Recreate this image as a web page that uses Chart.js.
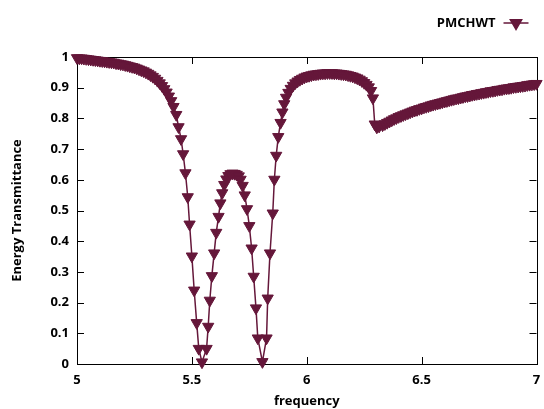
<!DOCTYPE html>
<html>
<head>
<meta charset="utf-8">
<script src="https://cdn.jsdelivr.net/npm/chart.js@4.4.1/dist/chart.umd.min.js"></script>
<style>
  html, body { margin: 0; padding: 0; background: #fff; }
</style>
</head>
<body>
<canvas id="chart" width="544" height="409"></canvas>
<script>
const seriesName = 'PMCHWT';

// frequency samples (dense where the curve is flat, read point by point in the dips)
const freq = [
  5.00, 5.01, 5.02, 5.03, 5.04, 5.05, 5.06, 5.07, 5.08, 5.09,
  5.10, 5.11, 5.12, 5.13, 5.14, 5.15, 5.16, 5.17, 5.18, 5.19,
  5.20, 5.21, 5.22, 5.23, 5.24, 5.25, 5.26, 5.27, 5.28, 5.29,
  5.30, 5.31, 5.32, 5.33, 5.34, 5.35, 5.36, 5.37, 5.38, 5.39,
  5.40, 5.41, 5.42,
  5.432, 5.442, 5.453, 5.462, 5.472, 5.482, 5.490, 5.500, 5.510, 5.521,
  5.530, 5.544, 5.564, 5.571, 5.578, 5.587, 5.597, 5.606, 5.616, 5.624,
  5.632, 5.641, 5.650, 5.659, 5.668, 5.677, 5.686, 5.695, 5.704, 5.712,
  5.721, 5.730, 5.740, 5.750, 5.760, 5.769, 5.779, 5.787, 5.807, 5.825,
  5.830, 5.840, 5.852, 5.859, 5.867, 5.876, 5.886, 5.894, 5.902,
  5.91, 5.92, 5.93, 5.94, 5.95, 5.96, 5.97, 5.98, 5.99, 6.00,
  6.01, 6.02, 6.03, 6.04, 6.05, 6.06, 6.07, 6.08, 6.09, 6.10,
  6.11, 6.12, 6.13, 6.14, 6.15, 6.16, 6.17, 6.18, 6.19, 6.20,
  6.21, 6.22, 6.23, 6.24, 6.25, 6.26, 6.27, 6.28,
  6.288, 6.296, 6.305, 6.315,
  6.33, 6.34, 6.35, 6.36, 6.37, 6.38, 6.39, 6.40,
  6.41, 6.42, 6.43, 6.44, 6.45, 6.46, 6.47, 6.48, 6.49, 6.50,
  6.51, 6.52, 6.53, 6.54, 6.55, 6.56, 6.57, 6.58, 6.59, 6.60,
  6.61, 6.62, 6.63, 6.64, 6.65, 6.66, 6.67, 6.68, 6.69, 6.70,
  6.71, 6.72, 6.73, 6.74, 6.75, 6.76, 6.77, 6.78, 6.79, 6.80,
  6.81, 6.82, 6.83, 6.84, 6.85, 6.86, 6.87, 6.88, 6.89, 6.90,
  6.91, 6.92, 6.93, 6.94, 6.95, 6.96, 6.97, 6.98, 6.99, 7.00
];

const trans = [
  0.997, 0.996, 0.996, 0.995, 0.994, 0.993, 0.992, 0.991, 0.990, 0.989,
  0.988, 0.987, 0.986, 0.985, 0.984, 0.983, 0.982, 0.980, 0.979, 0.977,
  0.976, 0.974, 0.972, 0.970, 0.968, 0.966, 0.963, 0.960, 0.957, 0.954,
  0.950, 0.946, 0.941, 0.936, 0.930, 0.923, 0.915, 0.906, 0.896, 0.885,
  0.872, 0.857, 0.838,
  0.812, 0.772, 0.733, 0.684, 0.622, 0.544, 0.455, 0.351, 0.240, 0.134,
  0.050, 0.006, 0.050, 0.122, 0.207, 0.287, 0.361, 0.428, 0.480, 0.524,
  0.557, 0.584, 0.602, 0.613, 0.619, 0.621, 0.620, 0.617, 0.612, 0.601,
  0.581, 0.550, 0.505, 0.450, 0.377, 0.285, 0.182, 0.084, 0.007, 0.084,
  0.214, 0.361, 0.491, 0.601, 0.679, 0.740, 0.786, 0.820, 0.847,
  0.868, 0.884, 0.897, 0.907, 0.915, 0.921, 0.926, 0.930, 0.934, 0.937,
  0.939, 0.941, 0.943, 0.944, 0.945, 0.946, 0.947, 0.947, 0.948, 0.948,
  0.948, 0.947, 0.947, 0.946, 0.945, 0.944, 0.943, 0.941, 0.939, 0.937,
  0.934, 0.931, 0.927, 0.922, 0.916, 0.910, 0.902, 0.890,
  0.866, 0.781, 0.771, 0.774,
  0.778, 0.782, 0.786, 0.790, 0.794, 0.798, 0.801, 0.805,
  0.808, 0.811, 0.814, 0.817, 0.820, 0.823, 0.826, 0.828, 0.831, 0.833,
  0.836, 0.838, 0.840, 0.843, 0.845, 0.847, 0.849, 0.851, 0.853, 0.855,
  0.857, 0.859, 0.861, 0.863, 0.865, 0.866, 0.868, 0.870, 0.872, 0.873,
  0.875, 0.877, 0.878, 0.880, 0.881, 0.883, 0.884, 0.886, 0.887, 0.889,
  0.890, 0.891, 0.893, 0.894, 0.895, 0.897, 0.898, 0.899, 0.900, 0.902,
  0.903, 0.904, 0.905, 0.906, 0.907, 0.909, 0.910, 0.911, 0.912, 0.913
];

const xTicks = [5, 5.5, 6, 6.5, 7];
const yTicks = [0, 0.1, 0.2, 0.3, 0.4, 0.5, 0.6, 0.7, 0.8, 0.9, 1];

const color = '#65173a';
const labelFont = { family: 'Open Sans', size: 13, weight: 'bold' };

// gnuplot style box with inward ticks on all four sides, plus key at top right
const gnuFrame = {
  id: 'gnuFrame',
  beforeDatasetsDraw(chart) {
    const { ctx, chartArea: a, scales: { x, y } } = chart;
    const t = 7;
    ctx.save();
    ctx.strokeStyle = '#000';
    ctx.lineWidth = 1;
    ctx.beginPath();
    xTicks.forEach(v => {
      const px = Math.round(x.getPixelForValue(v)) + 0.5;
      ctx.moveTo(px, a.bottom); ctx.lineTo(px, a.bottom - t);
      ctx.moveTo(px, a.top); ctx.lineTo(px, a.top + t);
    });
    yTicks.forEach(v => {
      const py = Math.round(y.getPixelForValue(v)) + 0.5;
      ctx.moveTo(a.left, py); ctx.lineTo(a.left + t, py);
      ctx.moveTo(a.right, py); ctx.lineTo(a.right - t, py);
    });
    ctx.stroke();
    ctx.strokeRect(Math.round(a.left) + 0.5, Math.round(a.top) + 0.5,
                   Math.round(a.width), Math.round(a.height));
    ctx.restore();
  },
  afterDraw(chart) {
    const { ctx, chartArea: a } = chart;
    const ds = chart.data.datasets[0];
    const ky = 23;
    const x1 = a.right - 33, x2 = a.right - 8, mx = (x1 + x2) / 2;
    ctx.save();
    ctx.font = 'bold 13px "Open Sans"';
    ctx.fillStyle = '#000';
    ctx.textAlign = 'right';
    ctx.textBaseline = 'middle';
    ctx.fillText(ds.label, x1 - 8, ky);
    ctx.strokeStyle = ds.borderColor;
    ctx.lineWidth = 1.5;
    ctx.beginPath();
    ctx.moveTo(x1, ky); ctx.lineTo(x2, ky);
    ctx.stroke();
    const r = 6.5;
    ctx.fillStyle = ds.borderColor;
    ctx.beginPath();
    ctx.moveTo(mx, ky + r);
    ctx.lineTo(mx - r * 0.866, ky - r / 2);
    ctx.lineTo(mx + r * 0.866, ky - r / 2);
    ctx.closePath();
    ctx.fill();
    ctx.stroke();
    ctx.restore();
  }
};

new Chart(document.getElementById('chart'), {
  type: 'line',
  data: {
    datasets: [{
      label: seriesName,
      data: freq.map((f, i) => ({ x: f, y: trans[i] })),
      borderColor: color,
      backgroundColor: color,
      borderWidth: 1.5,
      tension: 0,
      pointStyle: 'triangle',
      rotation: 180,
      pointRadius: 6.5,
      pointBorderWidth: 1,
      pointBackgroundColor: color,
      pointBorderColor: color,
      clip: false
    }]
  },
  options: {
    responsive: false,
    animation: false,
    devicePixelRatio: 1,
    layout: { padding: { top: 57, right: 5, left: 0, bottom: 0 } },
    plugins: {
      legend: { display: false },
      tooltip: { enabled: false }
    },
    scales: {
      x: {
        type: 'linear',
        min: 5,
        max: 7,
        afterBuildTicks: s => { s.ticks = xTicks.map(v => ({ value: v })); },
        afterFit: s => { s.height = 45; s.paddingLeft = 0; s.paddingRight = 0; },
        grid: { display: false, drawTicks: false },
        border: { display: false },
        ticks: { padding: 8, color: '#000', font: labelFont, maxRotation: 0, autoSkip: false,
                 callback: v => String(v) },
        title: { display: true, text: 'frequency', color: '#000', font: labelFont, padding: { top: 0, bottom: 0 } }
      },
      y: {
        type: 'linear',
        min: 0,
        max: 1,
        afterBuildTicks: s => { s.ticks = yTicks.map(v => ({ value: v })); },
        afterFit: s => { s.width = 77; s.paddingTop = 0; s.paddingBottom = 0; },
        grid: { display: false, drawTicks: false },
        border: { display: false },
        ticks: { padding: 8, color: '#000', font: labelFont, autoSkip: false,
                 callback: v => String(v) },
        title: { display: true, text: 'Energy Transmittance', color: '#000', font: labelFont, padding: { top: 9, bottom: 0 } }
      }
    }
  },
  plugins: [gnuFrame]
});
</script>
</body>
</html>
